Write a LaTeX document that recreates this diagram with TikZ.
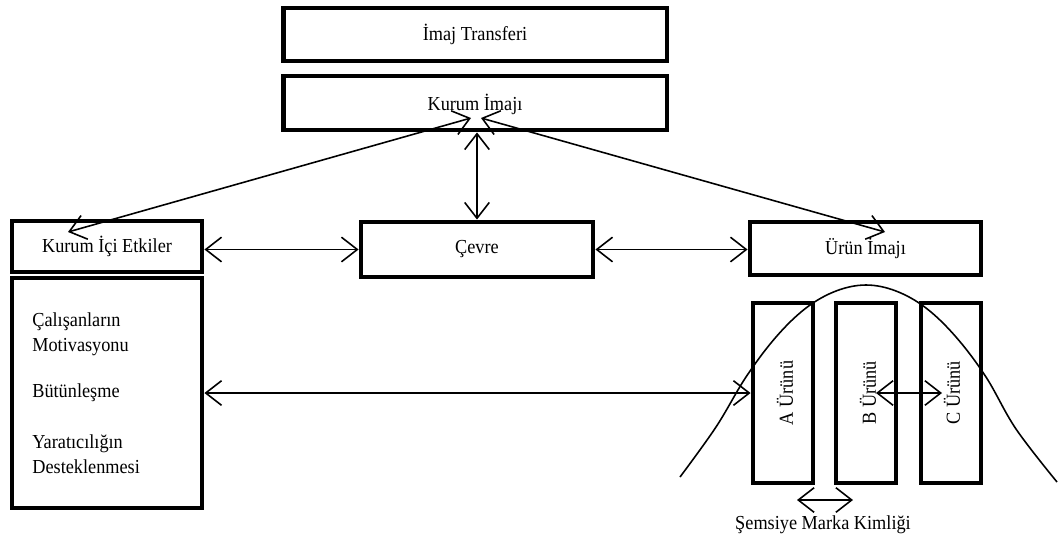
\documentclass[tikz,border=0pt]{standalone}
\usepackage{fontspec}
\setmainfont[FakeStretch=0.92]{Liberation Serif}
\usetikzlibrary{arrows.meta}
\tikzset{
  box/.style={draw, line width=2.8pt, inner sep=0pt},
  conn/.style={line width=0.9pt, {Straight Barb[length=9pt,width=14pt]}-{Straight Barb[length=9pt,width=14pt]}},
  txt/.style={inner sep=0pt},
}
\begin{document}
\begin{tikzpicture}[x=0.02cm, y=-0.02cm, font=\fontsize{11.3}{14.2}\selectfont]
\useasboundingbox (0,0) rectangle (1061,539);
% boxes
\node[box, minimum width=7.68cm, minimum height=1.06cm] (T) at (475,34.5) {İmaj Transferi};
\node[box, minimum width=7.68cm, minimum height=1.08cm] (K) at (475,103) {};
\node[txt] (Kt) at (475,104) {Kurum İmajı};
\node[box, minimum width=3.8cm, minimum height=1.02cm] (KI) at (107,246.5) {Kurum İçi Etkiler};
\node[box, minimum width=3.8cm, minimum height=4.6cm] (L) at (107,393) {};
\node[box, minimum width=4.64cm, minimum height=1.1cm] (C) at (477,249.5) {Çevre};
\node[box, minimum width=4.62cm, minimum height=1.06cm] (U) at (865.5,248.5) {Ürün İmajı};
\node[box, minimum width=1.2cm, minimum height=3.6cm] (A) at (783,393) {};
\node[box, minimum width=1.2cm, minimum height=3.6cm] (B) at (866,393) {};
\node[box, minimum width=1.2cm, minimum height=3.6cm] (Cc) at (951,393) {};
% texts
\node[txt, anchor=west, align=left] (t1) at (32,334) {Çalışanların\\Motivasyonu};
\node[txt, anchor=west] (t2) at (32,393) {Bütünleşme};
\node[txt, anchor=west, align=left] (t3) at (32,454) {Yaratıcılığın\\Desteklenmesi};
\node[txt, rotate=90] (At) at (785,393) {A Ürünü};
\node[txt, rotate=90] (Bt) at (868,393) {B Ürünü};
\node[txt, rotate=90] (Ct) at (952,393) {C Ürünü};
\node[txt] (S) at (823,525) {Şemsiye Marka Kimliği};
% bell curve
\draw[line width=0.9pt] plot[smooth, tension=0.6] coordinates {(680,477) (716,427) (746,377) (776,337) (806,308) (836,291) (866,285) (896,291) (926,308) (956,337) (986,377) (1016,429) (1057,482)};
% connector end points
\coordinate (kl) at (471,118);
\coordinate (kr) at (481,118);
\coordinate (kiend) at (68,232);
\coordinate (uend) at (885,232);
\coordinate (bend) at (876,393);
\coordinate (cend) at (942,393);
\coordinate (s1) at (797,500);
\coordinate (s2) at (853,500);
% connectors
\draw[conn] (kiend) -- (kl);
\draw[conn] (uend) -- (kr);
\draw[conn] (C.north |- K.south) -- (C.north);
\draw[conn] (KI.east |- C.west) -- (C.west);
\draw[conn] (C.east) -- (C.east -| U.west);
\draw[conn] (L.east) -- (A.west);
\draw[conn] (bend) -- (cend);
\draw[conn] (s1) -- (s2);
\end{tikzpicture}
\end{document}
